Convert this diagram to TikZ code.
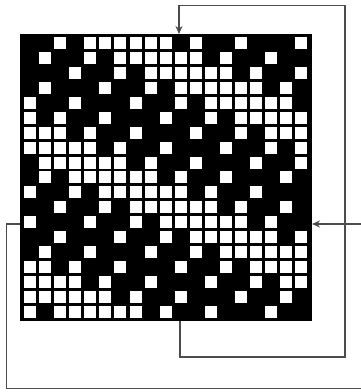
\documentclass[tikz,border=0pt]{standalone}
\usetikzlibrary{arrows.meta}
\begin{document}
\begin{tikzpicture}[x=1pt,y=-1pt,
  gridbox/.style={draw=none,fill=black,inner sep=0pt,minimum width=292pt,minimum height=287pt},
  cell/.style={fill=white},
  wire/.style={draw=black!70,line width=1.1pt},
  feed/.style={wire,-{Stealth[length=8pt,width=7pt]}}]
\useasboundingbox (0,0) rectangle (360,392);
\node[gridbox] (grid) at (166,177.5) {};
\foreach \r/\cols in {
  0/{2,4,5,6,7,8,9,11,14,18},
  1/{1,4,6,7,8,9,10,11,13,16},
  2/{3,6,8,9,10,11,12,13,15,18},
  3/{1,5,8,10,11,12,13,14,15,17},
  4/{0,3,7,10,12,13,14,15,16,17},
  5/{0,2,5,9,12,14,15,16,17,18},
  6/{0,1,2,4,7,11,14,16,17,18},
  7/{0,1,2,3,4,6,9,13,16,18},
  8/{1,2,3,4,5,6,8,11,15,18},
  9/{1,3,4,5,6,7,8,10,13,17},
  10/{0,3,5,6,7,8,9,10,12,15},
  11/{2,5,7,8,9,10,11,12,14,17},
  12/{0,4,7,9,10,11,12,13,14,16},
  13/{2,6,9,11,12,13,14,15,16,18},
  14/{1,4,8,11,13,14,15,16,17,18},
  15/{0,1,3,6,10,13,15,16,17,18},
  16/{0,1,2,3,5,8,12,15,17,18},
  17/{0,1,2,3,4,5,7,10,14,17},
  18/{0,2,3,4,5,6,7,9,12,16}} {
  \foreach \c in \cols {
    \fill[cell] ({30+15.08*\c-6},{43.3+14.9*\r-6}) rectangle ++(12,12);
  }
}
% connector coordinates
\coordinate (outA) at (180,321);
\coordinate (a1) at (180,357);
\coordinate (a2) at (345,357);
\coordinate (a3) at (345,5.7);
\coordinate (a4) at (179,5.7);
\coordinate (inA) at (179,34);
\coordinate (outB) at (20,224);
\coordinate (b1) at (6.7,224);
\coordinate (b2) at (6.7,388.3);
\coordinate (b3) at (361,388.3);
\coordinate (b4) at (361,224);
\coordinate (inB) at (312,224);
\draw[feed] (outA) -- (a1) -- (a2) -- (a3) -- (a4) -- (inA);
\draw[wire] (outB) -- (b1) -- (b2) -- (b3);
\draw[feed] (b4) -- (inB);
\end{tikzpicture}
\end{document}
